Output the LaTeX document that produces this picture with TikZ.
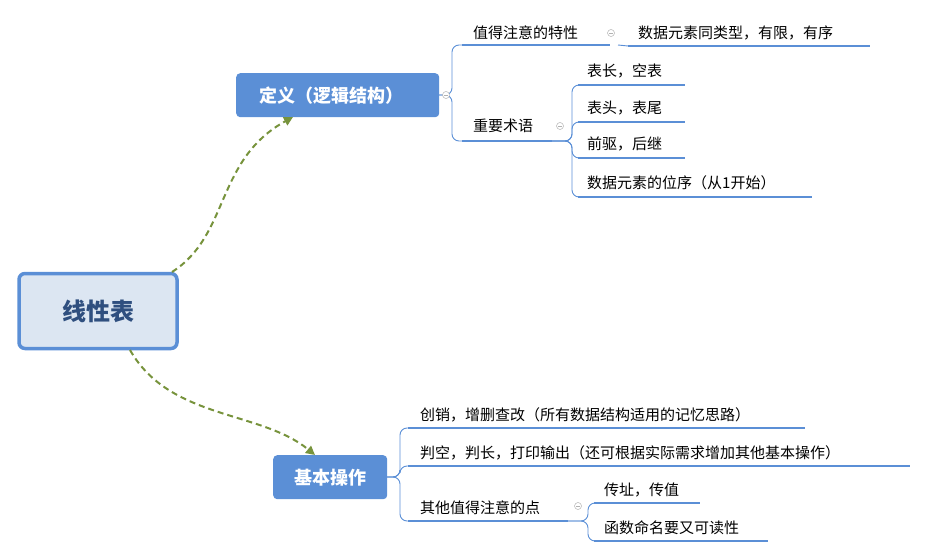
\documentclass[tikz,border=0pt]{standalone}
\usepackage{fontspec}
\newfontfamily\cjk{Noto Sans CJK SC}
\usetikzlibrary{arrows.meta}
\definecolor{blu}{HTML}{5B8FD6}
\definecolor{rootf}{HTML}{DCE6F2}
\definecolor{rootb}{HTML}{5B8FD6}
\definecolor{olive}{HTML}{77933C}
\definecolor{dtext}{HTML}{2F4F7F}
\tikzset{
 x=1pt,y=-1pt,
 lbl/.style={anchor=base west,inner sep=0pt,font=\cjk\fontsize{15}{15}\selectfont,text=black},
 ul/.style={draw=blu,line width=1.3pt},
 br/.style={draw=blu,line width=0.9pt,rounded corners=7pt},
 mk/.style={circle,draw=gray!60,fill=white,minimum size=7pt,inner sep=0pt,line width=0.5pt},
 topic/.style={rounded corners=4pt,fill=blu,text=white,font=\cjk\bfseries\fontsize{18}{18}\selectfont,anchor=north west,inner sep=0pt},
 dasharrow/.style={draw=olive,line width=2pt,dash pattern=on 6pt off 4pt,-{Triangle[length=9pt,width=9pt]}}
}
\newcommand{\mymk}[2]{\node[mk] (#1) at #2 {}; \draw[gray!60,line width=0.5pt] ([xshift=-2pt]#1.center)--([xshift=2pt]#1.center);}
\begin{document}
\begin{tikzpicture}
\useasboundingbox (0,0) rectangle (927,559);
% root
\node[draw=rootb,line width=3.5pt,fill=rootf,rounded corners=6pt,minimum width=158pt,minimum height=75pt,text=dtext,font=\cjk\bfseries\fontsize{24}{24}\selectfont] (root) at (98,311) {线性表};
\node[topic,minimum width=203pt,minimum height=44pt] (def) at (236,73) {};
\node[text=white,font=\cjk\bfseries\fontsize{18}{18}\selectfont] (deft) at (331,96) {定义（逻辑结构）};
\node[topic,minimum width=114pt,minimum height=44pt] (ops) at (273,455) {};
\node[text=white,font=\cjk\bfseries\fontsize{18}{18}\selectfont] (opst) at (330,478) {基本操作};
\coordinate (r1) at (172,272); \coordinate (r2) at (130,350);
\draw[dasharrow] (r1) .. controls (230,235) and (215,160) .. (293,117);
\draw[dasharrow] (r2) .. controls (170,420) and (260,410) .. (315,455);
% definition branches
\coordinate (dp) at (439,95);
\draw[br] (dp) -- (452,95) -- (452,45) -- (462,45);
\draw[br] (dp) -- (452,95) -- (452,141) -- (462,141);
\mymk{m1}{(446,95)}
\draw[ul] (462,45) -- (610,45);
\node[lbl] (a1) at (473,39) {值得注意的特性};
\draw[ul] (628,46) -- (870,46);
\draw[br] (618,45) -- (628,46);
\mymk{m2}{(611,33)}
\node[lbl] (a2) at (638,39) {数据元素同类型，有限，有序};
\draw[ul] (462,141) -- (552,141);
\node[lbl] (a3) at (473,132) {重要术语};
\mymk{m3}{(560,126)}
\coordinate (tp) at (552,141);
\foreach \y/\e/\t [count=\i] in {85/685/表长，空表,122/685/表头，表尾,158/685/前驱，后继,197/812/数据元素的位序（从1开始）}{
 \draw[br] (tp) -- (572,141) -- (572,\y) -- (578,\y);
 \draw[ul] (578,\y) -- (\e,\y);
 \node[lbl] (t\i) at (587,\y-8) {\t};
}
% ops branches
\coordinate (op) at (387,477);
\foreach \y/\e/\t [count=\i] in {428/805/创销，增删查改（所有数据结构适用的记忆思路）,466/910/判空，判长，打印输出（还可根据实际需求增加其他基本操作）,521/568/其他值得注意的点}{
 \draw[br] (op) -- (400,477) -- (400,\y) -- (408,\y);
 \draw[ul] (408,\y) -- (\e,\y);
 \node[lbl] (o\i) at (420,\y-8) {\t};
}
\mymk{m4}{(578,506)}
\coordinate (sp) at (568,521);
\foreach \y/\e/\t [count=\i] in {503/700/传址，传值,541/768/函数命名要又可读性}{
 \draw[br] (sp) -- (588,521) -- (588,\y) -- (594,\y);
 \draw[ul] (594,\y) -- (\e,\y);
 \node[lbl] (s\i) at (604,\y-8) {\t};
}
\end{tikzpicture}
\end{document}
